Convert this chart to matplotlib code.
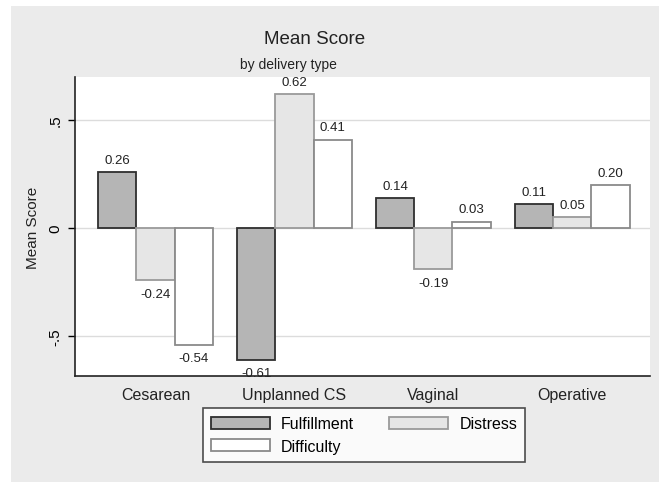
import matplotlib
matplotlib.use("Agg")
import matplotlib.pyplot as plt
from matplotlib.patches import Rectangle
import numpy as np

categories = ["Cesarean", "Unplanned CS", "Vaginal", "Operative"]
series_names = ["Fulfillment", "Distress", "Difficulty"]
fulfillment = [0.26, -0.61, 0.14, 0.11]
distress = [-0.24, 0.62, -0.19, 0.05]
difficulty = [-0.54, 0.41, 0.03, 0.20]
ytick_vals = [-0.5, 0, 0.5]
ytick_labels = ["-.5", "0", ".5"]

plt.rcParams['font.family'] = ['Liberation Sans', 'DejaVu Sans']

W, H = 659, 485
fig = plt.figure(figsize=(W / 100, H / 100), dpi=100)
fig.patch.set_facecolor("white")
bg = Rectangle((11 / W, 1 - 483 / H), (W - 11) / W, (483 - 7) / H,
               transform=fig.transFigure, facecolor="#ebebeb", edgecolor="none", zorder=-10)
fig.patches.append(bg)

ax = fig.add_axes([75 / W, 1 - 377 / H, 575 / W, 299 / H])
ax.set_facecolor("white")

x = np.arange(len(categories))
bw = 0.275
styles = [
    dict(facecolor="#b5b5b5", edgecolor="#2e2e2e"),
    dict(facecolor="#e6e6e6", edgecolor="#9a9a9a"),
    dict(facecolor="white", edgecolor="#8a8a8a"),
]
data = [fulfillment, distress, difficulty]
handles = []
for i, (vals, st) in enumerate(zip(data, styles)):
    pos = x + (i - 1) * bw
    bars = ax.bar(pos, vals, width=bw, linewidth=1.3, zorder=3, label=series_names[i], **st)
    handles.append(bars)
    for p, v in zip(pos, vals):
        if v >= 0:
            ax.annotate(f"{v:.2f}", (p, v), xytext=(0, 4.5), textcoords="offset points",
                        ha="center", va="bottom", fontsize=9.5, color="#222222")
        else:
            ax.annotate(f"{v:.2f}", (p, v), xytext=(0, -5.5), textcoords="offset points",
                        ha="center", va="top", fontsize=9.5, color="#222222")

ax.set_xlim(-0.58, 3.56)
ax.set_ylim(-0.685, 0.70)
ax.set_yticks(ytick_vals)
ax.set_yticklabels(ytick_labels, rotation=90, va="center", fontsize=11)
ax.set_xticks(x)
ax.set_xticklabels(categories, fontsize=11.5, color="#222222")
ax.tick_params(axis="x", length=0, pad=8)
ax.tick_params(axis="y", length=5, width=1, direction="out", pad=4)
ax.grid(axis="y", color="#dcdcdc", linewidth=1, zorder=0)
for s in ["top", "right"]:
    ax.spines[s].set_visible(False)
ax.spines["left"].set_color("#222222")
ax.spines["bottom"].set_color("#222222")
ax.spines["left"].set_linewidth(1.2)
ax.spines["bottom"].set_linewidth(1.2)
ax.set_ylabel("Mean Score", fontsize=11, labelpad=6, color="#222222")

fig.text(315 / W, 1 - 40 / H, "Mean Score", ha="center", va="center", fontsize=13.5, color="#222222")
fig.text(288 / W, 1 - 65 / H, "by delivery type", ha="center", va="center", fontsize=10, color="#222222")

leg = fig.legend([handles[0], handles[2], handles[1]],
                 ["Fulfillment", "Difficulty", "Distress"],
                 ncol=2, loc="center", bbox_to_anchor=(364 / W, 1 - 436 / H),
                 fontsize=11.5, frameon=True, fancybox=False, edgecolor="#222222",
                 handlelength=3.7, handleheight=0.85, handletextpad=0.7,
                 columnspacing=2.2, labelspacing=0.45, borderpad=0.5)
leg.get_frame().set_linewidth(1.2)
leg.get_frame().set_facecolor("white")

fig.savefig("out.png", dpi=100)
